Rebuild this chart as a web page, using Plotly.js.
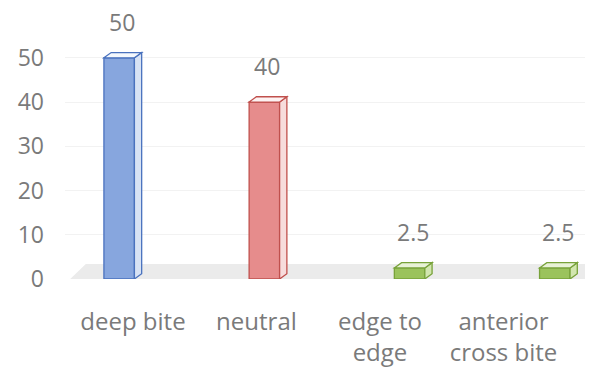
<!DOCTYPE html>
<html>
<head>
<meta charset="utf-8">
<script src="https://cdn.plot.ly/plotly-3.0.1.min.js"></script>
<style>html,body{margin:0;padding:0;background:#fff;}#chart{width:591px;height:371px;}</style>
</head>
<body>
<div id="chart"></div>
<script>
// ---- data ----
const categories = ['deep bite', 'neutral', 'edge to edge', 'anterior cross bite'];
const tickLabels = ['deep bite', 'neutral', 'edge to<br>edge', 'anterior<br>cross bite'];
const values = [50, 40, 2.5, 2.5];
const valueLabels = ['50', '40', '2.5', '2.5'];
const yTicks = [0, 10, 20, 30, 40, 50];

// ---- styles ----
const frontFill = ['rgba(135,166,222,1)', 'rgba(230,140,140,1)', 'rgba(155,195,92,1)', 'rgba(155,195,92,1)'];
const sideFill = ['rgba(215,226,244,1)', 'rgba(247,220,220,1)', 'rgba(210,230,175,1)', 'rgba(210,230,175,1)'];
const topFill = ['rgba(244,248,253,1)', 'rgba(253,243,243,1)', 'rgba(232,242,214,1)', 'rgba(232,242,214,1)'];
const edgeColor = ['#4a72be', '#c0504d', '#78a23a', '#78a23a'];
const textColor = '#7a7a7a';
const fontFam = '"Open Sans", sans-serif';
const halfW = 0.105, dx = 0.05, dy = 1.2;

const shapes = [];
// floor
shapes.push({type: 'path', xref: 'paper', yref: 'y', layer: 'below',
  path: 'M 0.01,0 L 1,0 L 1,3.4 L 0.04,3.4 Z', fillcolor: '#ebebeb', line: {width: 0}});
categories.forEach((c, i) => {
  const v = values[i];
  const l = i - halfW, r = i + halfW;
  shapes.push({type: 'path', xref: 'x', yref: 'y', layer: 'above',
    path: `M ${r},0 L ${r + dx},${dy} L ${r + dx},${v + dy} L ${r},${v} Z`,
    fillcolor: sideFill[i], line: {color: edgeColor[i], width: 1.3}});
  shapes.push({type: 'path', xref: 'x', yref: 'y', layer: 'above',
    path: `M ${l},${v} L ${l + dx},${v + dy} L ${r + dx},${v + dy} L ${r},${v} Z`,
    fillcolor: topFill[i], line: {color: edgeColor[i], width: 1.3}});
});

const annotations = categories.map((c, i) => ({
  x: c, y: values[i], xref: 'x', yref: 'y', text: valueLabels[i], showarrow: false,
  yshift: 36, xshift: 3, yanchor: 'middle',
  font: {family: fontFam, size: 23, color: textColor}
}));

const data = [
  {type: 'bar', x: categories, y: values, xaxis: 'x', yaxis: 'y', width: 0.21,
   marker: {color: frontFill, line: {color: edgeColor, width: 1.3}},
   hoverinfo: 'skip', showlegend: false},
  {type: 'scatter', mode: 'none', x: categories, y: values, xaxis: 'x2', yaxis: 'y',
   hoverinfo: 'skip', showlegend: false}
];

const layout = {
  width: 591, height: 371,
  margin: {l: 65, r: 6, t: 49, b: 92},
  paper_bgcolor: '#ffffff', plot_bgcolor: '#ffffff',
  font: {family: fontFam, size: 23, color: textColor},
  showlegend: false,
  bargap: 0,
  xaxis: {type: 'category', categoryarray: categories, range: [-0.373, 3.208],
    showticklabels: false, showgrid: false, zeroline: false, showline: false, ticks: ''},
  xaxis2: {type: 'category', categoryarray: categories, overlaying: 'x', anchor: 'y', side: 'bottom',
    range: [-0.55, 3.66], tickmode: 'array', tickvals: categories, ticktext: tickLabels,
    showgrid: false, zeroline: false, showline: false, ticks: '', ticklabelstandoff: 26,
    tickfont: {family: fontFam, size: 24, color: textColor}},
  yaxis: {range: [0, 52], tickmode: 'array', tickvals: yTicks, ticks: '',
    showgrid: true, gridcolor: '#f2f2f2', gridwidth: 1, zeroline: false, showline: false,
    ticklabelstandoff: 20,
    tickfont: {family: fontFam, size: 23, color: textColor}},
  shapes: shapes,
  annotations: annotations
};

Plotly.newPlot('chart', data, layout, {displayModeBar: false, staticPlot: true});
</script>
</body>
</html>
